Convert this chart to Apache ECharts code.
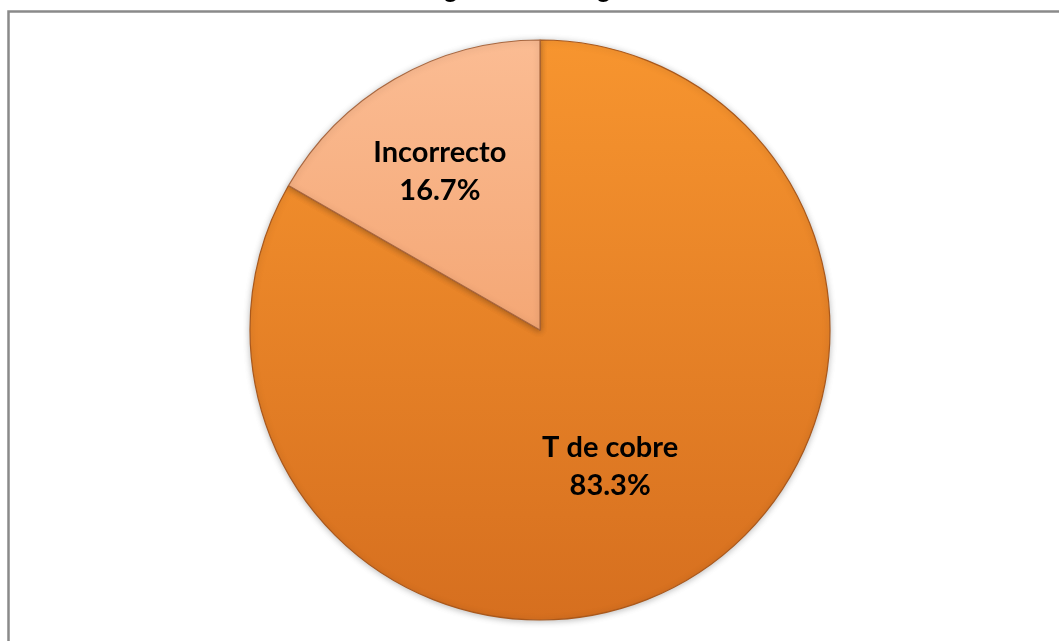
<!DOCTYPE html>
<html>
<head>
<meta charset="utf-8">
<title>Pregunta</title>
<script src="https://cdn.jsdelivr.net/npm/echarts@6/dist/echarts.min.js"></script>
<style>
  html, body { margin: 0; padding: 0; background: #fff; }
  #chart { width: 1059px; height: 641px; }
</style>
</head>
<body>
<div id="chart"></div>
<script>
// chart values
const categories = ['T de cobre', 'Incorrecto'];
const percents = [83.3, 16.7];
const titleText = 'Figura 11. Pregunta 8';

const fills = [
  { top: '#F7952F', bottom: '#D66F1F', border: '#A9581C' },
  { top: '#FBBC93', bottom: '#F4A775', border: '#A9673F' },
];
const labelOffsets = [[-4, 9], [-26, -30]];

const chart = echarts.init(document.getElementById('chart'));

const pieData = categories.map((name, i) => ({
  name,
  value: percents[i],
  itemStyle: {
    color: new echarts.graphic.LinearGradient(0, 0, 0, 1, [
      { offset: 0, color: fills[i].top },
      { offset: 1, color: fills[i].bottom },
    ]),
    borderColor: fills[i].border,
  },
  label: { offset: labelOffsets[i] },
}));

chart.setOption({
  backgroundColor: '#ffffff',
  animation: false,
  title: {
    text: titleText,
    left: 550,
    textAlign: 'center',
    top: -30,
    textStyle: {
      fontFamily: 'Liberation Sans, Arial, sans-serif',
      fontWeight: 'bold',
      fontSize: 27,
      color: '#000',
    },
  },
  graphic: [{
    type: 'rect',
    shape: { x: 8.5, y: 11.5, width: 1200, height: 800 },
    style: { fill: 'none', stroke: '#8a8a8a', lineWidth: 2.5 },
    z: 0,
  }],
  series: [{
    type: 'pie',
    center: [540, 330],
    radius: 290,
    startAngle: 90,
    clockwise: true,
    z: 2,
    itemStyle: {
      borderWidth: 1.2,
      shadowBlur: 6,
      shadowColor: 'rgba(0,0,0,0.25)',
      shadowOffsetY: 1,
    },
    label: {
      show: true,
      position: 'inside',
      formatter: p => p.name + '\n' + p.value.toFixed(1) + '%',
      fontFamily: 'Lato, "Open Sans", sans-serif',
      fontWeight: 'bold',
      fontSize: 29,
      lineHeight: 38,
      color: '#000',
    },
    labelLine: { show: false },
    emphasis: { disabled: true },
    data: pieData,
  }],
});
</script>
</body>
</html>
